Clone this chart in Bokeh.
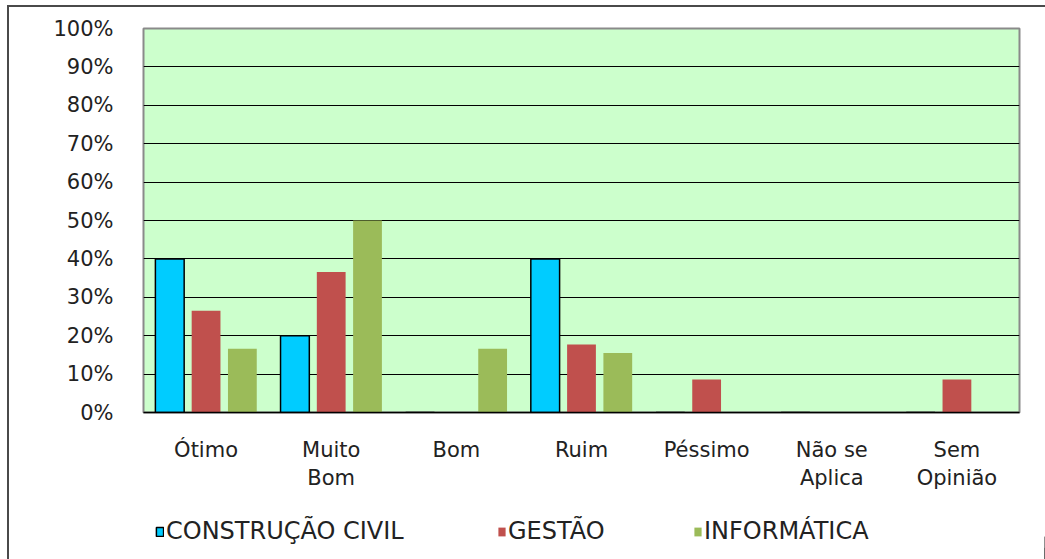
from bokeh.plotting import figure
from bokeh.layouts import column
from bokeh.models import (ColumnDataSource, FixedTicker, PrintfTickFormatter,
                          Legend, LegendItem, FactorRange, Range1d)
from bokeh.transform import dodge
from bokeh.embed import file_html
from bokeh.resources import INLINE

# Survey answers (% of respondents per course)
categories = ["Ótimo", "Muito\nBom", "Bom", "Ruim", "Péssimo", "Não se\nAplica", "Sem\nOpinião"]
construcao_civil = [40, 20, 0, 40, 0, 0, 0]
gestao = [26.5, 36.6, 0, 17.7, 8.6, 0, 8.6]
informatica = [16.6, 50, 16.6, 15.5, 0, 0, 0]
y_ticks = [0, 10, 20, 30, 40, 50, 60, 70, 80, 90, 100]

series_names = ["CONSTRUÇÃO CIVIL", "GESTÃO", "INFORMÁTICA"]
series_cols = ["cc", "ge", "inf"]
colors = ["#00CCFF", "#C0504D", "#9BBB59"]
offsets = [-0.29, 0.0, 0.29]

source = ColumnDataSource(dict(cat=categories, cc=construcao_civil,
                               ge=gestao, inf=informatica))

FONT = "DejaVu Sans"
TEXT_COLOR = "#222222"


def add_bars(fig, shift=0.0):
    rs = []
    for col, color, off in zip(series_cols, colors, offsets):
        outline = "black" if col == "cc" else None
        rs.append(fig.vbar(x=dodge("cat", off + shift, range=fig.x_range), top=col,
                           width=0.23, source=source, fill_color=color,
                           line_color=outline, line_width=1.5))
    return rs


# ---- main chart ----
p = figure(x_range=FactorRange(*categories), y_range=(0, 100),
           width=1036, height=495, output_backend="svg", toolbar_location=None,
           min_border_left=134, min_border_right=26, min_border_top=21,
           min_border_bottom=90)
p.frame_align = False

p.background_fill_color = "#CCFFCC"
p.border_fill_color = "white"
p.outline_line_color = "#8a8a8a"
p.outline_line_width = 2

add_bars(p)

p.xgrid.grid_line_color = None
p.ygrid.ticker = FixedTicker(ticks=y_ticks)
p.ygrid.grid_line_color = "black"
p.ygrid.grid_line_width = 1.2
p.ygrid.level = "underlay"

p.yaxis.ticker = FixedTicker(ticks=y_ticks)
p.yaxis.formatter = PrintfTickFormatter(format="%d%%")
p.yaxis.axis_line_color = None
p.yaxis.major_tick_line_color = None
p.yaxis.minor_tick_line_color = None
p.yaxis.major_label_standoff = 24
p.yaxis.major_label_text_font = FONT
p.yaxis.major_label_text_font_size = "21px"
p.yaxis.major_label_text_color = TEXT_COLOR

p.xaxis.axis_line_color = "black"
p.xaxis.axis_line_width = 1.5
p.xaxis.major_tick_line_color = None
p.xaxis.minor_tick_line_color = None
p.xaxis.major_label_standoff = 19
p.xaxis.major_label_text_font = FONT
p.xaxis.major_label_text_font_size = "21px"
p.xaxis.major_label_text_color = TEXT_COLOR

# ---- legend strip under the chart ----
lg = figure(x_range=FactorRange(*categories), y_range=Range1d(0, 100),
            width=1036, height=57, output_backend="svg", toolbar_location=None,
            min_border=0, min_border_left=0, min_border_right=0,
            min_border_top=0, min_border_bottom=0)
lg.frame_align = False
lg.axis.visible = False
lg.grid.visible = False
lg.outline_line_color = None
lg.background_fill_color = "white"
lg.border_fill_color = "white"
# swatch renderers: same series styling, placed past the strip's right edge
legend_renderers = add_bars(lg, shift=30.0)

for r, name, x0 in zip(legend_renderers, series_names, [146, 488, 684]):
    lg.add_layout(Legend(items=[LegendItem(label=name, renderers=[r])],
                         location=(x0, 14), orientation="horizontal",
                         padding=0, margin=0, spacing=0,
                         border_line_color=None, background_fill_alpha=0,
                         glyph_width=9, glyph_height=11, label_standoff=2,
                         label_text_font=FONT, label_text_font_size="24px",
                         label_text_color=TEXT_COLOR), "center")

layout = column(p, lg, spacing=0)
layout.margin = (5, 0, 0, 7)
layout.styles = {"border-left": "2px solid #4a4a4a", "border-top": "2px solid #4a4a4a"}

open("out.html", "w").write(file_html(layout, INLINE))
